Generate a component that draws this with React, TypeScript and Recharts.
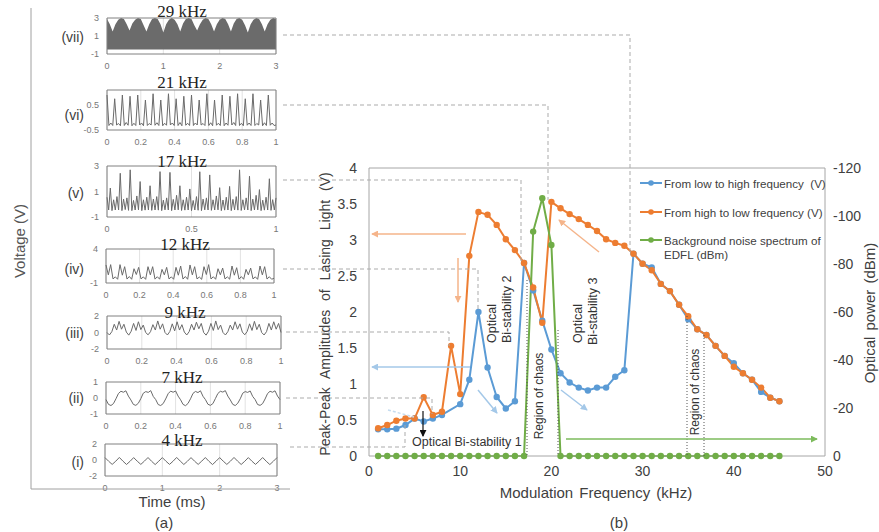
import React from 'react'
import { ComposedChart, Line, Area, XAxis, YAxis, CartesianGrid, ReferenceLine, ReferenceArea } from 'recharts'

const FONT = '"Liberation Sans", Arial, sans-serif'
const SERIF = '"Liberation Serif", "Times New Roman", serif'
const BLUE = '#5B9BD5'
const ORANGE = '#ED7D31'
const GREEN = '#70AD47'
const TXT = '#404040'

// ---- (b) sweep of the modulation frequency ----
const freqs = [
  1, 2, 3, 4, 5, 6, 7, 8, 9, 10, 11, 12, 13, 14, 15, 16, 17, 18, 19, 20, 21, 22, 23,
  24, 25, 26, 27, 28, 29, 30, 31, 32, 33, 34, 35, 36, 37, 38, 39, 40, 41, 42, 43, 44, 45,
]
const lowToHigh = [
  0.37, 0.37, 0.38, 0.43, 0.52, 0.48, 0.52, 0.57, null, 0.72,
  1.06, 2.0, 1.23, 0.82, 0.66, 0.76, 2.68, 2.3, 1.88, 1.48,
  1.15, 1.02, 0.95, 0.91, 0.95, 0.95, 1.1, 1.19, 2.81, 2.67,
  2.62, 2.39, 2.29, 2.1, 1.9, 1.76, 1.68, 1.53, 1.39, 1.29,
  1.15, 1.06, 0.89, 0.81, 0.76,
]
const highToLow = [
  0.385, 0.43, 0.49, 0.52, 0.52, 0.815, 0.57, 0.615, 1.53, 0.86,
  2.78, 3.39, 3.35, 3.21, 3.01, 2.86, 2.68, 2.34, 1.85, 3.53,
  3.44, 3.36, 3.29, 3.21, 3.125, 3.01, 2.96, 2.92, 2.81, 2.67,
  2.58, 2.39, 2.29, 2.1, 1.94, 1.76, 1.68, 1.53, 1.39, 1.24,
  1.15, 1.06, 0.95, 0.81, 0.76,
]
const noiseDbm = [
  0, 0, 0, 0, 0, 0, 0, 0, 0, 0,
  0, 0, 0, 0, 0, 0, 0, -93.5, -107.4, -87.9,
  0, 0, 0, 0, 0, 0, 0, 0, 0, 0,
  0, 0, 0, 0, 0, 0, 0, 0, 0, 0,
  0, 0, 0, 0, 0,
]
const ampTicks = [0, 0.5, 1, 1.5, 2, 2.5, 3, 3.5, 4]
const powerTicks = [0, -20, -40, -60, -80, -100, -120]
const freqTicks = [0, 10, 20, 30, 40, 50]

// ---- (a) voltage traces ----
const trace29Top = [
  2.9, 2.3,
  1.5, 2.3, 2.8, 3.0, 2.9, 2.3,
  1.6, 2.4, 2.8, 3.0, 2.9, 2.2,
  1.5, 2.3, 2.9, 3.0, 2.9, 2.3,
  1.4, 2.3, 2.8, 3.0, 2.8, 2.3,
  1.5, 2.4, 2.9, 3.0, 2.9, 2.2,
  1.6, 2.3, 2.8, 3.0, 2.9, 2.3,
  1.5, 2.3, 2.8, 3.0, 2.9, 2.3,
  1.5, 2.4, 2.9, 3.0, 2.8, 2.2,
  1.4, 2.3, 2.8, 3.0, 2.9, 2.3,
  1.5, 2.3, 2.8, 3.0, 2.9,
]
const trace29Floor = -0.5
const trace21 = [
  0.9, -0.32, -0.22, -0.32, 0.75, -0.3, -0.24, -0.33, 0.9, -0.32, -0.2, -0.31,
  0.85, -0.33, -0.23, -0.32, 0.9, -0.3, -0.22, -0.33, 0.7, -0.32, -0.24, -0.3,
  0.95, -0.31, -0.21, -0.32, 0.7, -0.33, -0.23, -0.31, 0.95, -0.3, -0.22, -0.32,
  0.75, -0.32, -0.2, -0.33, 0.85, -0.31, -0.23, -0.32, 0.9, -0.32, -0.22, -0.3,
  0.7, -0.3, -0.24, -0.32, 0.95, -0.32, -0.21, -0.33, 0.7, -0.31, -0.23, -0.32,
  0.9, -0.33, -0.22, -0.31, 0.85, -0.3, -0.2, -0.32, 0.95, -0.32, -0.23, -0.33,
  0.75, -0.31, -0.22, -0.32, 0.95, -0.32, -0.24, -0.3, 0.7, -0.33, -0.21, -0.32,
  0.9, -0.31, -0.22, -0.32, -0.3,
]
const trace17 = [
  0.55, -0.45, 1.27, -0.5, 0.35, -0.45,
  0.6, -0.45, 2.43, -0.5, 0.4, -0.42,
  0.5, -0.48, 2.7, -0.5, 0.3, -0.45,
  0.65, -0.44, 1.78, -0.5, 0.35, -0.46,
  0.55, -0.45, 1.45, -0.48, 0.4, -0.45,
  0.6, -0.46, 2.56, -0.5, 0.32, -0.44,
  0.5, -0.45, 2.5, -0.5, 0.38, -0.45,
  0.7, -0.44, 1.45, -0.49, 0.35, -0.46,
  0.55, -0.45, 1.2, -0.5, 0.3, -0.45,
  0.6, -0.47, 2.55, -0.5, 0.4, -0.44,
  0.5, -0.45, 2.3, -0.48, 0.35, -0.45,
  0.65, -0.44, 1.3, -0.5, 0.33, -0.46,
  0.55, -0.45, 1.4, -0.5, 0.38, -0.45,
  0.6, -0.46, 2.7, -0.49, 0.35, -0.44,
  0.5, -0.45, 2.2, -0.5, 0.4, -0.45,
  0.7, -0.44, 1.15, -0.5, 0.32, -0.46,
  0.55, -0.45, 2.0, -0.48, 0.36, -0.45,
  0.5,
]
const trace12 = [
  1.65, 0.2, 1.7, -0.4, -0.1, -0.45,
  1.7, 0.15, 1.4, -0.42, -0.05, -0.45,
  1.1, 0.25, 1.3, -0.4, -0.1, -0.46,
  1.4, 0.2, 1.4, -0.43, -0.08, -0.44,
  1.0, 0.2, 1.3, -0.4, -0.1, -0.45,
  1.3, 0.15, 1.5, -0.42, -0.05, -0.45,
  1.65, 0.2, 1.4, -0.4, -0.12, -0.46,
  1.4, 0.25, 1.7, -0.41, -0.08, -0.45,
  1.1, 0.2, 1.2, -0.4, -0.1, -0.44,
  1.5, 0.15, 1.25, -0.43, -0.06, -0.45,
  1.0, 0.2, 1.2, -0.4, -0.1, -0.46,
  1.5, 0.2, 1.4, -0.42, -0.08, -0.45,
  -0.3,
]
const trace9 = [
  0.0, -0.3, 0.1, 1.0, 0.3, 1.35, 0.4, 1.0,
  0.05, -0.32, 0.15, 1.1, 0.25, 1.3, 0.35, 0.9,
  0.0, -0.28, 0.1, 0.95, 0.3, 1.4, 0.4, 1.05,
  0.0, -0.3, 0.12, 1.05, 0.2, 1.3, 0.3, 0.95,
  0.05, -0.3, 0.1, 1.0, 0.3, 1.25, 0.45, 1.1,
  0.0, -0.32, 0.15, 1.1, 0.25, 1.4, 0.35, 0.9,
  0.0, -0.3, 0.1, 0.9, 0.3, 1.3, 0.4, 1.05,
  0.05, -0.28, 0.12, 1.05, 0.25, 1.35, 0.35, 1.0,
  0.0, -0.3, 0.1, 1.1, 0.3, 1.3, 0.4, 1.1,
  0.0,
]
const trace7 = [
  -0.1, -0.4, -0.47, -0.35, -0.05, 0.28, 0.42, 0.36, 0.45, 0.12,
  -0.12, -0.4, -0.46, -0.33, -0.04, 0.3, 0.4, 0.35, 0.46, 0.1,
  -0.1, -0.41, -0.47, -0.35, -0.06, 0.27, 0.43, 0.36, 0.44, 0.12,
  -0.11, -0.4, -0.48, -0.34, -0.05, 0.29, 0.41, 0.34, 0.45, 0.11,
  -0.1, -0.39, -0.46, -0.35, -0.04, 0.28, 0.42, 0.37, 0.46, 0.12,
  -0.12, -0.4, -0.47, -0.33, -0.05, 0.3, 0.4, 0.35, 0.44, 0.1,
  -0.1, -0.41, -0.46, -0.35, -0.06, 0.28, 0.42, 0.36, 0.45, 0.12,
  -0.1,
]
const trace4 = [
  0.3, -0.15, -0.55, -0.15, 0.32, -0.14, -0.56, -0.16,
  0.3, -0.15, -0.55, -0.14, 0.31, -0.16, -0.57, -0.15,
  0.3, -0.15, -0.55, -0.15, 0.32, -0.14, -0.56, -0.16,
  0.3, -0.15, -0.55, -0.14, 0.31, -0.16, -0.57, -0.15,
  0.3, -0.15, -0.55, -0.15, 0.32, -0.14, -0.56, -0.16,
  0.3, -0.15, -0.55, -0.14, 0.31, -0.16, -0.57, -0.15,
  0.3,
]

const mainRows = freqs.map((f, i) => ({ f, up: lowToHigh[i], down: highToLow[i], noise: noiseDbm[i] }))

const toRows = (vals: number[], span: number) =>
  vals.map((v, i) => ({ t: (i * span) / (vals.length - 1), v }))

const rows29 = trace29Top.map((v, i) => ({ t: (i * 3) / (trace29Top.length - 1), r: [trace29Floor, v] }))

type Box = { x: number; y: number; w: number; h: number }
interface PanelDef {
  title: string
  label: string
  box: Box
  xMax: number
  xTicks: number[]
  yDomain: [number, number]
  yTicks: number[]
  rows: any[]
  range?: boolean
  titleX: number
  titleY: number
  labelY: number
  lead: string
}

const tenths = [0, 0.2, 0.4, 0.6, 0.8, 1]

const panels: PanelDef[] = [
  { title: '29 kHz', label: '(vii)', box: { x: 107, y: 18, w: 169, h: 36 }, xMax: 3, xTicks: [0, 1, 2, 3], yDomain: [-1, 3], yTicks: [-1, 1, 3], rows: rows29, range: true, titleX: 182, titleY: 11, labelY: 37, lead: 'M283,35 H630 V254' },
  { title: '21 kHz', label: '(vi)', box: { x: 107, y: 90, w: 169, h: 40 }, xMax: 1, xTicks: tenths, yDomain: [-0.5, 1.1], yTicks: [-0.5, 0.5], rows: toRows(trace21, 1), titleX: 182, titleY: 82, labelY: 115, lead: 'M283,105 H548 V200' },
  { title: '17 kHz', label: '(v)', box: { x: 107, y: 166, w: 169, h: 51 }, xMax: 1, xTicks: [0, 0.5, 1], yDomain: [-1, 3], yTicks: [-1, 1, 3], rows: toRows(trace17, 1), titleX: 182, titleY: 161, labelY: 193, lead: 'M283,180 H521 V262' },
  { title: '12 kHz', label: '(iv)', box: { x: 106, y: 249, w: 168, h: 34 }, xMax: 1, xTicks: tenths, yDomain: [-1, 4], yTicks: [-1, 4], rows: toRows(trace12, 1), titleX: 185, titleY: 244, labelY: 269, lead: 'M283,269 H478 V312' },
  { title: '9 kHz', label: '(iii)', box: { x: 107, y: 316, w: 174, h: 33 }, xMax: 1, xTicks: tenths, yDomain: [-2, 2], yTicks: [-2, 0, 2], rows: toRows(trace9, 1), titleX: 185, titleY: 312, labelY: 333, lead: 'M286,332 H449 V346' },
  { title: '7 kHz', label: '(ii)', box: { x: 106, y: 382, w: 174, h: 32 }, xMax: 1, xTicks: tenths, yDomain: [-1, 1], yTicks: [-1, 0, 1], rows: toRows(trace7, 1), titleX: 182, titleY: 377, labelY: 398, lead: 'M286,398 H432 V414' },
  { title: '4 kHz', label: '(i)', box: { x: 105, y: 444, w: 172, h: 32 }, xMax: 3, xTicks: [0, 1, 2, 3], yDomain: [-2, 2], yTicks: [-2, 0, 2], rows: toRows(trace4, 3), titleX: 182, titleY: 440, labelY: 462, lead: 'M290,447 H405 V425' },
]

const AXW = 40
const TOP = 8
const smallTick = { fontSize: 9, fill: '#777', fontFamily: FONT }

const WavePanel = ({ p }: { p: PanelDef }) => {
  const { box } = p
  return (
    <div style={{ position: 'absolute', left: box.x - AXW, top: box.y - TOP }}>
      <ComposedChart width={box.w + AXW + 10} height={box.h + TOP + 20} data={p.rows} margin={{ top: TOP, right: 10, bottom: 0, left: 0 }}>
        <CartesianGrid horizontal={false} stroke="#e2e2e2" />
        <XAxis dataKey="t" type="number" domain={[0, p.xMax]} ticks={p.xTicks} height={20} axisLine={false} tickLine={false} tickMargin={3} tick={smallTick} interval={0} />
        <YAxis type="number" domain={p.yDomain} ticks={p.yTicks} width={AXW} axisLine={false} tickLine={false} tickMargin={2} tick={smallTick} allowDataOverflow interval={0} />
        {p.range ? (
          <Area dataKey="r" type="linear" stroke="none" fill="#6b6b6b" fillOpacity={1} isAnimationActive={false} />
        ) : (
          <Line dataKey="v" type="linear" stroke="#6a6a6a" strokeWidth={1} dot={false} activeDot={false} isAnimationActive={false} />
        )}
        <ReferenceArea x1={0} x2={p.xMax} y1={p.yDomain[0]} y2={p.yDomain[1]} fill="none" stroke="#808080" strokeWidth={1} />
      </ComposedChart>
    </div>
  )
}

const bigTick = { fontSize: 14, fill: TXT, fontFamily: FONT }

const Arrow = ({ d, id, color, w = 1.5 }: { d: string; id: string; color: string; w?: number }) => (
  <path d={d} stroke={color} strokeWidth={w} fill="none" markerEnd={`url(#${id})`} />
)

const legendItems = [
  { color: BLUE, text: ['From low to high frequency  (V)'], y: 183 },
  { color: ORANGE, text: ['From high to low frequency (V)'], y: 212 },
  { color: GREEN, text: ['Background noise spectrum of', 'EDFL (dBm)'], y: 240 },
]

export default function App() {
  return (
    <div style={{ position: 'absolute', left: 0, top: 0, width: 879, height: 532, background: '#fff', overflow: 'hidden' }}>
      {panels.map((p) => (
        <WavePanel key={p.label} p={p} />
      ))}

      <div style={{ position: 'absolute', left: 300, top: 150 }}>
        <ComposedChart width={579} height={340} data={mainRows} margin={{ top: 18, right: 0, bottom: 0, left: 0 }}>
          <XAxis dataKey="f" type="number" domain={[0, 50]} ticks={freqTicks} height={34} axisLine={{ stroke: '#a6a6a6' }} tickLine={false} tickMargin={4} tick={bigTick} interval={0} />
          <YAxis yAxisId="v" type="number" domain={[0, 4]} ticks={ampTicks} width={69} axisLine={{ stroke: '#a6a6a6' }} tickLine={false} tickMargin={6} tick={bigTick} interval={0} />
          <YAxis yAxisId="p" orientation="right" type="number" domain={[-120, 0]} reversed ticks={powerTicks} width={54} axisLine={{ stroke: '#a6a6a6' }} tickLine={false} tickMargin={2} tick={{ ...bigTick, textAnchor: 'start' }} interval={0} />
          <ReferenceLine yAxisId="v" y={4} stroke="#a6a6a6" />
          <Line yAxisId="v" dataKey="up" name="From low to high frequency  (V)" stroke={BLUE} strokeWidth={2} connectNulls dot={{ r: 3.2, fill: BLUE, stroke: BLUE, strokeWidth: 0 }} activeDot={false} isAnimationActive={false} />
          <Line yAxisId="v" dataKey="down" name="From high to low frequency (V)" stroke={ORANGE} strokeWidth={2} dot={{ r: 3.2, fill: ORANGE, stroke: ORANGE, strokeWidth: 0 }} activeDot={false} isAnimationActive={false} />
          <Line yAxisId="p" dataKey="noise" name="Background noise spectrum of EDFL (dBm)" stroke={GREEN} strokeWidth={2} dot={{ r: 3.2, fill: GREEN, stroke: GREEN, strokeWidth: 0 }} activeDot={false} isAnimationActive={false} />
        </ComposedChart>
      </div>

      <svg width={879} height={532} style={{ position: 'absolute', left: 0, top: 0, pointerEvents: 'none' }}>
        <defs>
          {[
            ['ahO', '#F5B48A'],
            ['ahB', '#A4C8E8'],
            ['ahG', '#7DBB5C'],
            ['ahK', '#111'],
          ].map(([id, c]) => (
            <marker key={id} id={id} viewBox="0 0 8 8" refX={7} refY={4} markerWidth={7} markerHeight={7} markerUnits="userSpaceOnUse" orient="auto">
              <path d="M0,0 L8,4 L0,8 z" fill={c} />
            </marker>
          ))}
        </defs>

        {/* panel (a) frame and labels */}
        <line x1={31} y1={8} x2={31} y2={489} stroke="#a0a0a0" />
        <line x1={31} y1={489} x2={290} y2={489} stroke="#a0a0a0" />
        <text transform="translate(19,241) rotate(-90)" textAnchor="middle" dominantBaseline="central" fontFamily={FONT} fontSize={15} fill="#555">
          Voltage (V)
        </text>
        <text x={172} y={501} textAnchor="middle" dominantBaseline="central" fontFamily={FONT} fontSize={15} fill={TXT}>
          Time (ms)
        </text>
        <text x={164} y={522} textAnchor="middle" dominantBaseline="central" fontFamily={FONT} fontSize={15} fill={TXT}>
          (a)
        </text>
        {panels.map((p) => (
          <g key={p.label}>
            <text x={p.titleX} y={p.titleY} textAnchor="middle" dominantBaseline="central" fontFamily={SERIF} fontSize={17} fill="#222">
              {p.title}
            </text>
            <text x={84} y={p.labelY} textAnchor="end" dominantBaseline="central" fontFamily={FONT} fontSize={14} fill={TXT}>
              {p.label}
            </text>
            <path d={p.lead} stroke="#ababab" strokeDasharray="4 3" fill="none" />
          </g>
        ))}

        {/* panel (b) titles */}
        <text transform="translate(325,314) rotate(-90)" textAnchor="middle" dominantBaseline="central" fontFamily={FONT} fontSize={14} fill={TXT} style={{ wordSpacing: 5 }}>
          Peak-Peak Amplitudes of Lasing Light (V)
        </text>
        <text transform="translate(869,313) rotate(-90)" textAnchor="middle" dominantBaseline="central" fontFamily={FONT} fontSize={15} fill={TXT} style={{ wordSpacing: 2 }}>
          Optical power (dBm)
        </text>
        <text x={596} y={492} textAnchor="middle" dominantBaseline="central" fontFamily={FONT} fontSize={15} fill={TXT} style={{ wordSpacing: 2 }}>
          Modulation Frequency (kHz)
        </text>
        <text x={619} y={522} textAnchor="middle" dominantBaseline="central" fontFamily={FONT} fontSize={15} fill={TXT}>
          (b)
        </text>

        {/* chaos regions */}
        <line x1={527} y1={280} x2={527} y2={456} stroke="#555" strokeDasharray="1 2" />
        <line x1={558} y1={330} x2={558} y2={456} stroke="#555" strokeDasharray="1 2" />
        <line x1={687} y1={316} x2={687} y2={456} stroke="#555" strokeDasharray="1 2" />
        <line x1={704} y1={335} x2={704} y2={456} stroke="#555" strokeDasharray="1 2" />
        <text transform="translate(539,396) rotate(-90)" textAnchor="middle" dominantBaseline="central" fontFamily={FONT} fontSize={12} fill="#333">
          Region of chaos
        </text>
        <text transform="translate(695,392) rotate(-90)" textAnchor="middle" dominantBaseline="central" fontFamily={FONT} fontSize={12} fill="#333">
          Region of chaos
        </text>
        <text transform="translate(492,343) rotate(-90)" textAnchor="start" dominantBaseline="central" fontFamily={FONT} fontSize={12.5} fill="#333">
          Optical
        </text>
        <text transform="translate(507,343) rotate(-90)" textAnchor="start" dominantBaseline="central" fontFamily={FONT} fontSize={12.5} fill="#333">
          Bi-stability 2
        </text>
        <text transform="translate(578,343) rotate(-90)" textAnchor="start" dominantBaseline="central" fontFamily={FONT} fontSize={12.5} fill="#333">
          Optical
        </text>
        <text transform="translate(593,345) rotate(-90)" textAnchor="start" dominantBaseline="central" fontFamily={FONT} fontSize={12.5} fill="#333">
          Bi-stability 3
        </text>
        <text x={412} y={442} dominantBaseline="central" fontFamily={FONT} fontSize={12.5} fill="#333">
          Optical Bi-stability 1
        </text>

        {/* hysteresis arrows */}
        <Arrow d="M466,234 H372" id="ahO" color="#F5B48A" />
        <Arrow d="M458,258 V302" id="ahO" color="#F5B48A" />
        <Arrow d="M599,252 L559,220" id="ahO" color="#F5B48A" />
        <Arrow d="M470,367 H372" id="ahB" color="#A4C8E8" />
        <Arrow d="M478,390 L497,413" id="ahB" color="#A4C8E8" />
        <Arrow d="M561,390 L587,410" id="ahB" color="#A4C8E8" />
        <path d="M388,410 L414,417" stroke="#C5DCF0" strokeWidth={1.5} strokeDasharray="3 2" fill="none" />
        <Arrow d="M423,411 V436" id="ahK" color="#111" w={1.2} />
        <Arrow d="M566,439 H817" id="ahG" color="#7DBB5C" />

        {/* legend */}
        {legendItems.map((it) => (
          <g key={it.color}>
            <line x1={640} y1={it.y} x2={662} y2={it.y} stroke={it.color} strokeWidth={2} />
            <circle cx={651} cy={it.y} r={2.8} fill={it.color} />
            {it.text.map((t, k) => (
              <text key={k} x={664} y={it.y + k * 14} dominantBaseline="central" fontFamily={FONT} fontSize={11.6} fill={TXT} style={{ whiteSpace: 'pre' }}>
                {t}
              </text>
            ))}
          </g>
        ))}
      </svg>
    </div>
  )
}
